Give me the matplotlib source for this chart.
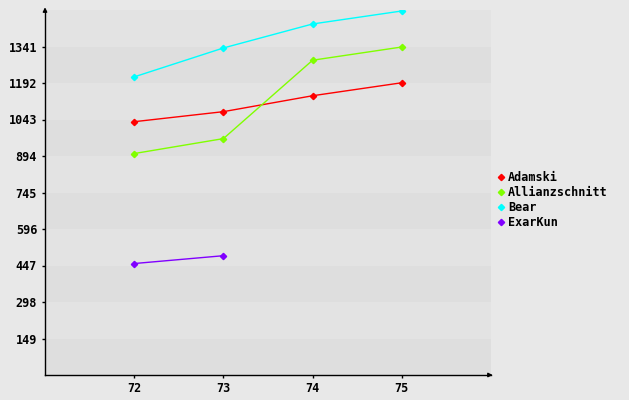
import matplotlib
matplotlib.use("Agg")
import matplotlib.pyplot as plt
from matplotlib.lines import Line2D

years = [72, 73, 74, 75]
adamski = [1034, 1075, 1140, 1193]
allianzschnitt = [904, 965, 1285, 1339]
bear = [1217, 1335, 1433, 1486]
exarkun_years = [72, 73]
exarkun = [455, 487]
yticks = [149, 298, 447, 596, 745, 894, 1043, 1192, 1341]

series = [
    ("Adamski", years, adamski, "#ff0000"),
    ("Allianzschnitt", years, allianzschnitt, "#80ff00"),
    ("Bear", years, bear, "#00ffff"),
    ("ExarKun", exarkun_years, exarkun, "#8000ff"),
]

W, H = 629, 400
fig = plt.figure(figsize=(W / 100, H / 100), dpi=100)
fig.patch.set_facecolor("#e8e8e8")
ax = fig.add_axes([45 / W, 25 / H, 446 / W, 365 / H])
ax.set_facecolor("#e8e8e8")
ymax = 1490
ax.set_xlim(71, 76)
ax.set_ylim(0, ymax)

edges = [0] + yticks + [ymax]
for i in range(len(edges) - 1):
    c = "#dedede" if i % 2 == 0 else "#e3e3e3"
    ax.axhspan(edges[i], edges[i + 1], color=c, lw=0, zorder=0)

fs = 8.5
font = dict(family="DejaVu Sans Mono", weight="bold", size=fs)
for name, xs, ys, col in series:
    ax.plot(xs, ys, color=col, lw=1, marker="D", ms=3.2, label=name, zorder=3)

for s in ["top", "right"]:
    ax.spines[s].set_visible(False)
for s in ["left", "bottom"]:
    ax.spines[s].set_color("black")
    ax.spines[s].set_linewidth(1)
ax.set_xticks(years)
ax.set_xticklabels([str(y) for y in years], fontdict=font)
ax.set_yticks(yticks)
ax.set_yticklabels([str(v) for v in yticks], fontdict=font)
ax.tick_params(axis="both", length=2.2, width=1, color="black")
ax.tick_params(axis="x", pad=3.2)
ax.tick_params(axis="y", pad=3.5)

# axis arrows
ax.annotate("", xy=(0, 1.015), xycoords="axes fraction", xytext=(0, 0.99),
            arrowprops=dict(arrowstyle="-|>", color="black", lw=1, mutation_scale=6), annotation_clip=False)
ax.annotate("", xy=(1.01, 0), xycoords="axes fraction", xytext=(0.99, 0),
            arrowprops=dict(arrowstyle="-|>", color="black", lw=1, mutation_scale=6), annotation_clip=False)

handles = [Line2D([], [], color=c, marker="D", ms=3.2, lw=0) for _, _, _, c in series]
leg = fig.legend(handles, [s[0] for s in series], loc="upper left",
                 bbox_to_anchor=(493 / W, 1 - 166 / H), frameon=False,
                 prop=dict(family="DejaVu Sans Mono", weight="bold", size=fs),
                 handlelength=0.6, handletextpad=0.25, labelspacing=0.19, borderaxespad=0)

fig.savefig("out.png", dpi=100, facecolor=fig.get_facecolor())
